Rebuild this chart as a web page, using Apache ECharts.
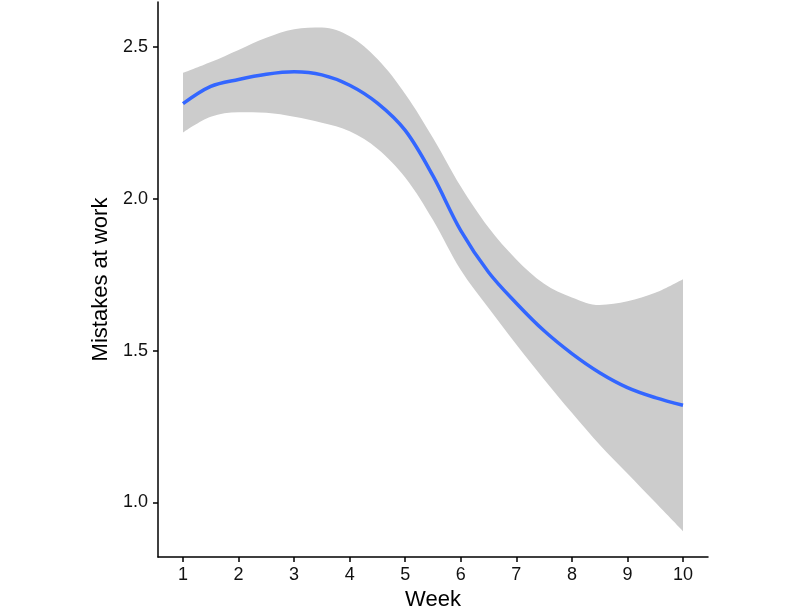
<!DOCTYPE html>
<html>
<head>
<meta charset="utf-8">
<script src="https://cdn.jsdelivr.net/npm/echarts@6/dist/echarts.min.js"></script>
<style>
  html, body { margin: 0; padding: 0; background: #fff; }
  #chart { width: 800px; height: 616px; }
</style>
</head>
<body>
<div id="chart"></div>
<script>
const weeks = [1, 1.5, 2, 2.5, 3, 3.5, 4, 4.5, 5, 5.5, 6, 6.5, 7, 7.5, 8, 8.5, 9, 9.5, 10]
const fitted = [2.313, 2.37, 2.393, 2.41, 2.418, 2.408, 2.374, 2.315, 2.225, 2.075, 1.895, 1.758, 1.656, 1.565, 1.49, 1.427, 1.378, 1.345, 1.32]
const upper = [2.414, 2.45, 2.49, 2.53, 2.558, 2.564, 2.535, 2.46, 2.345, 2.2, 2.04, 1.905, 1.8, 1.72, 1.675, 1.65, 1.662, 1.69, 1.735]
const lower = [2.218, 2.27, 2.285, 2.283, 2.27, 2.25, 2.222, 2.165, 2.07, 1.93, 1.765, 1.64, 1.52, 1.405, 1.295, 1.19, 1.095, 1.0, 0.905]
const xTicks = [1, 2, 3, 4, 5, 6, 7, 8, 9, 10]
const yTicks = [1.0, 1.5, 2.0, 2.5]

const chart = echarts.init(document.getElementById('chart'))

const font = 'Liberation Sans, Arial, sans-serif'
const smooth = 0.35

function pairs(ys) {
  return weeks.map((w, i) => [w, ys[i]])
}

// ribbon: grey area under the upper bound, then a white area under the lower bound
// axes get a higher z so the white fill does not hide the axis line
chart.setOption({
  animation: false,
  grid: { left: 158, right: 92, top: 2, bottom: 58 },
  xAxis: {
    type: 'value',
    min: 0.55,
    max: 10.45,
    z: 10,
    name: 'Week',
    nameLocation: 'middle',
    nameGap: 32,
    nameTextStyle: { color: '#000', fontSize: 22, fontFamily: font },
    axisLine: { show: true, lineStyle: { color: '#000', width: 1.5 } },
    axisTick: { show: true, length: 5, customValues: xTicks, lineStyle: { color: '#000', width: 1.5 } },
    axisLabel: { customValues: xTicks, color: '#111', fontSize: 18, fontFamily: font, margin: 9 },
    splitLine: { show: false }
  },
  yAxis: {
    type: 'value',
    min: 0.82,
    max: 2.648,
    z: 10,
    name: 'Mistakes at work',
    nameLocation: 'middle',
    nameGap: 44,
    nameTextStyle: { color: '#000', fontSize: 22, fontFamily: font },
    axisLine: { show: true, lineStyle: { color: '#000', width: 1.5 } },
    axisTick: { show: true, length: 5, customValues: yTicks, lineStyle: { color: '#000', width: 1.5 } },
    axisLabel: {
      customValues: yTicks,
      color: '#111',
      fontSize: 18,
      fontFamily: font,
      margin: 10,
      formatter: (v) => v.toFixed(1)
    },
    splitLine: { show: false }
  },
  series: [
    {
      type: 'line',
      data: pairs(upper),
      smooth,
      symbol: 'none',
      lineStyle: { width: 0, opacity: 0 },
      areaStyle: { color: '#cccccc', opacity: 1, origin: 'start' },
      silent: true,
      z: 1
    },
    {
      type: 'line',
      data: pairs(lower),
      smooth,
      symbol: 'none',
      lineStyle: { width: 0, opacity: 0 },
      areaStyle: { color: '#ffffff', opacity: 1, origin: 'start' },
      silent: true,
      z: 2
    },
    {
      type: 'line',
      data: pairs(fitted),
      smooth,
      symbol: 'none',
      lineStyle: { color: '#3366ff', width: 3.5 },
      z: 3
    }
  ]
})
</script>
</body>
</html>
